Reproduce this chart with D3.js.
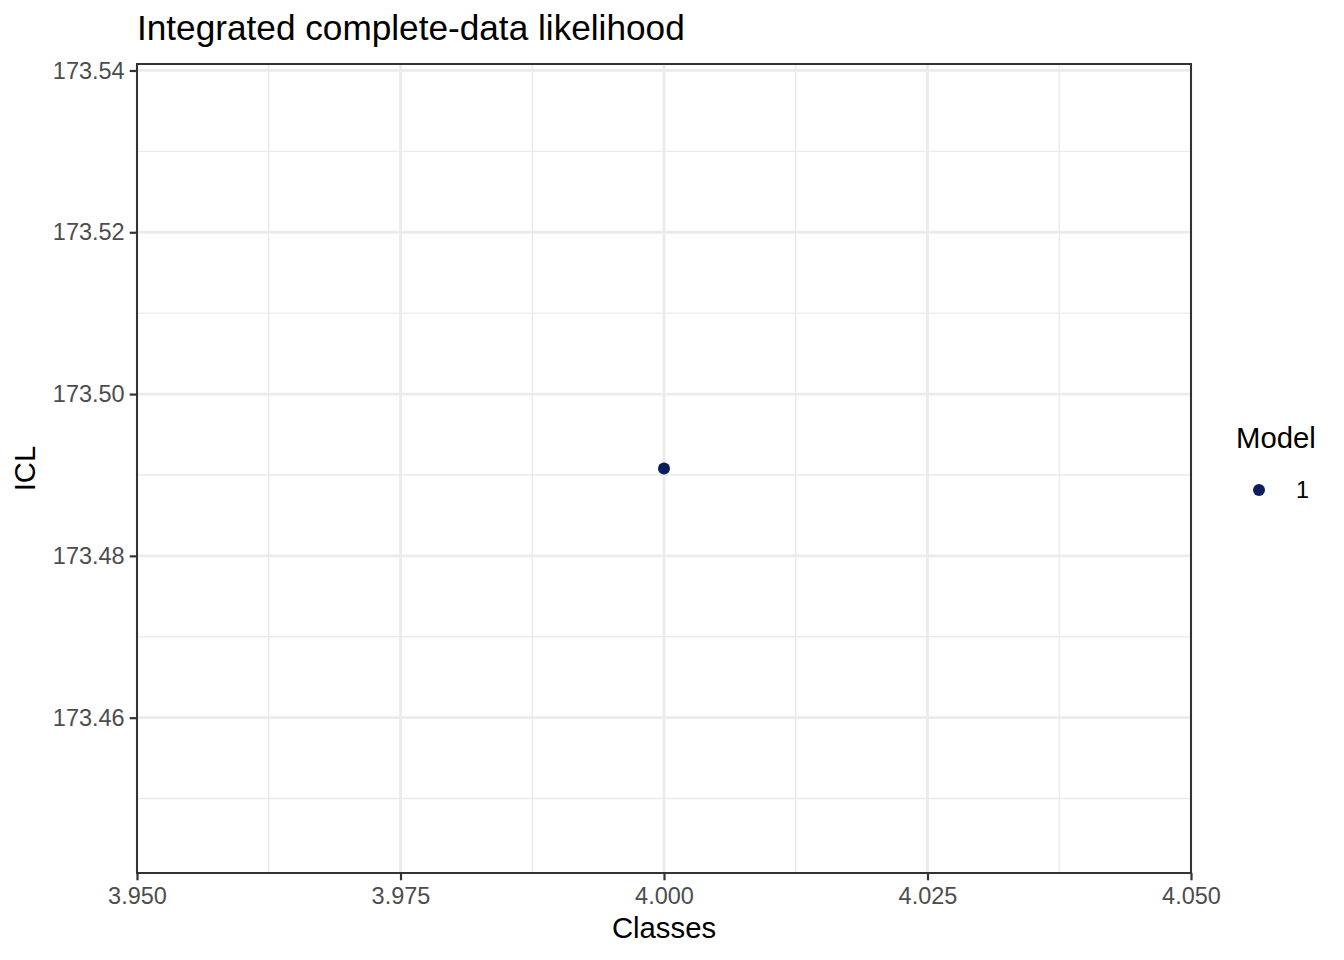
<!DOCTYPE html>
<html>
<head>
<meta charset="utf-8">
<script src="https://cdn.jsdelivr.net/npm/d3@7"></script>
<style>
  body { margin: 0; background: #fff; }
  text { font-family: "Liberation Sans", Arial, sans-serif; }
</style>
</head>
<body>
<svg id="chart" width="1344" height="960"></svg>
<script>
// data
var classes = [4];
var icl = [173.4908];
var models = ["1"];
var xTicks = [3.95, 3.975, 4.0, 4.025, 4.05];
var xMinor = [3.9625, 3.9875, 4.0125, 4.0375];
var yTicks = [173.46, 173.48, 173.50, 173.52, 173.54];
var yMinor = [173.45, 173.47, 173.49, 173.51, 173.53];
var pointColor = "#0C1F5C";

var margin = { top: 64, right: 153, bottom: 87, left: 137 };
var width = 1344 - margin.left - margin.right;
var height = 960 - margin.top - margin.bottom;

var x = d3.scaleLinear().domain([3.95, 4.05]).range([0, width]);
var y = d3.scaleLinear().domain([icl[0] - 0.05, icl[0] + 0.05]).range([height, 0]);

var svg = d3.select("#chart");
var g = svg.append("g")
    .attr("transform", "translate(" + margin.left + "," + margin.top + ")");

// minor grid
g.selectAll(".xminor").data(xMinor).enter().append("line")
    .attr("x1", x).attr("x2", x).attr("y1", 0).attr("y2", height)
    .attr("stroke", "#EBEBEB").attr("stroke-width", 1.4);
g.selectAll(".yminor").data(yMinor).enter().append("line")
    .attr("y1", y).attr("y2", y).attr("x1", 0).attr("x2", width)
    .attr("stroke", "#EBEBEB").attr("stroke-width", 1.4);

// major grid
g.selectAll(".xmajor").data(xTicks).enter().append("line")
    .attr("x1", x).attr("x2", x).attr("y1", 0).attr("y2", height)
    .attr("stroke", "#EBEBEB").attr("stroke-width", 2.8);
g.selectAll(".ymajor").data(yTicks).enter().append("line")
    .attr("y1", y).attr("y2", y).attr("x1", 0).attr("x2", width)
    .attr("stroke", "#EBEBEB").attr("stroke-width", 2.8);

// axes
var xAxis = g.append("g")
    .attr("transform", "translate(0," + height + ")")
    .call(d3.axisBottom(x).tickValues(xTicks).tickFormat(d3.format(".3f")).tickSize(7.3).tickPadding(5));
var yAxis = g.append("g")
    .call(d3.axisLeft(y).tickValues(yTicks).tickFormat(d3.format(".2f")).tickSize(7.3).tickPadding(5));
[xAxis, yAxis].forEach(function (a) {
    a.select(".domain").remove();
    a.selectAll("line").attr("stroke", "#333333").attr("stroke-width", 2.2);
    a.selectAll("text").attr("fill", "#4D4D4D").style("font-size", "23.5px")
        .style("font-family", "'Liberation Sans', Arial, sans-serif");
});
xAxis.selectAll("text").attr("dy", "0.78em");

// points
g.selectAll(".pt").data(classes).enter().append("circle")
    .attr("cx", function (d) { return x(d); })
    .attr("cy", function (d, i) { return y(icl[i]); })
    .attr("r", 6)
    .attr("fill", pointColor);

// panel border
g.append("rect").attr("width", width).attr("height", height)
    .attr("fill", "none").attr("stroke", "#333333").attr("stroke-width", 2);

// titles
svg.append("text").attr("x", 137).attr("y", 40)
    .style("font-size", "35.2px").attr("fill", "#000")
    .text("Integrated complete-data likelihood");
svg.append("text").attr("x", margin.left + width / 2).attr("y", 938)
    .attr("text-anchor", "middle").style("font-size", "29.3px")
    .text("Classes");
svg.append("text")
    .attr("transform", "translate(35," + (margin.top + height / 2) + ") rotate(-90)")
    .attr("text-anchor", "middle").style("font-size", "29.3px")
    .text("ICL");

// legend
var leg = svg.append("g");
leg.append("text").attr("x", 1236).attr("y", 448)
    .style("font-size", "29.3px").text("Model");
leg.selectAll(".lk").data(models).enter().append("circle")
    .attr("cx", 1259).attr("cy", function (d, i) { return 490 + i * 35; })
    .attr("r", 6).attr("fill", pointColor);
leg.selectAll(".ll").data(models).enter().append("text")
    .attr("x", 1296).attr("y", function (d, i) { return 498 + i * 35; })
    .style("font-size", "23.5px").text(function (d) { return d; });
</script>
</body>
</html>
